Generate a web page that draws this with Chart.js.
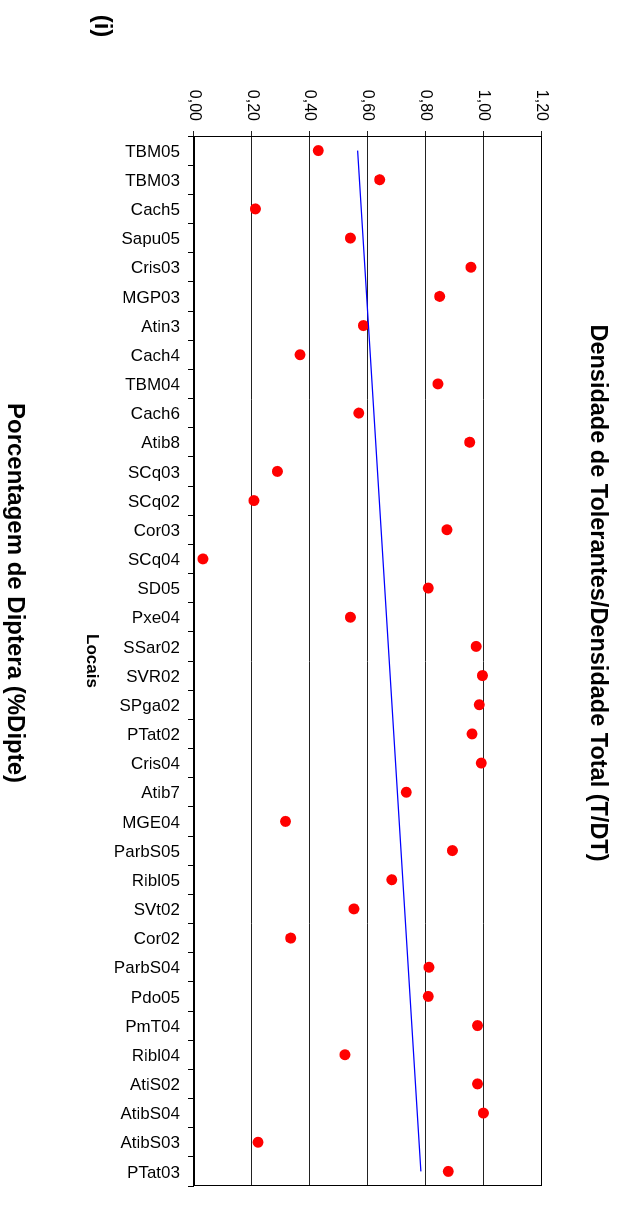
<!DOCTYPE html>
<html>
<head>
<meta charset="utf-8">
<script src="https://cdn.jsdelivr.net/npm/chart.js@4"></script>
<style>
  html, body { margin: 0; padding: 0; background: #ffffff; overflow: hidden; width: 628px; height: 1215px; }
  #wrap { position: absolute; left: 0; top: 0; width: 1215px; height: 628px;
          transform-origin: 0 0; transform: translate(628px, 0) rotate(90deg); background: #ffffff; }
</style>
</head>
<body>
<div id="wrap"><canvas id="c" width="1215" height="628"></canvas></div>
<script>
const categories = ['TBM05','TBM03','Cach5','Sapu05','Cris03','MGP03','Atin3','Cach4','TBM04','Cach6','Atib8',
  'SCq03','SCq02','Cor03','SCq04','SD05','Pxe04','SSar02','SVR02','SPga02','PTat02','Cris04','Atib7','MGE04',
  'ParbS05','Ribl05','SVt02','Cor02','ParbS04','Pdo05','PmT04','Ribl04','AtiS02','AtibS04','AtibS03','PTat03'];
const tdtValues = [0.429,0.641,0.212,0.540,0.956,0.848,0.585,0.366,0.842,0.569,0.952,
  0.288,0.207,0.873,0.031,0.809,0.540,0.974,0.996,0.985,0.960,0.992,0.733,0.316,
  0.892,0.683,0.552,0.334,0.811,0.809,0.979,0.521,0.979,0.999,0.221,0.878];
const trendStart = 0.565;
const trendEnd = 0.783;
const valueTicks = [0, 0.2, 0.4, 0.6, 0.8, 1.0, 1.2];

const trendData = categories.map((c, i) => i === 0 ? trendStart : (i === categories.length - 1 ? trendEnd : null));
const FONT = '"Liberation Sans", Arial, Helvetica, sans-serif';

const framePlugin = {
  id: 'frame',
  beforeDatasetsDraw(chart) {
    const a = chart.chartArea, ctx = chart.ctx;
    ctx.save();
    ctx.strokeStyle = '#000';
    ctx.lineWidth = 1;
    ctx.strokeRect(Math.round(a.left) + 0.5, Math.round(a.top) + 0.5,
                   Math.round(a.right - a.left) - 1, Math.round(a.bottom - a.top) - 1);
    ctx.restore();
  }
};
const panelLabel = {
  id: 'panelLabel',
  afterDraw(chart) {
    const ctx = chart.ctx;
    ctx.save();
    ctx.font = 'bold 24px ' + FONT;
    ctx.fillStyle = '#000';
    ctx.textAlign = 'center';
    ctx.textBaseline = 'middle';
    ctx.fillText('(i)', 26, 526);
    ctx.restore();
  }
};

new Chart(document.getElementById('c'), {
  type: 'line',
  data: {
    labels: categories,
    datasets: [
      { label: 'Tendência', data: trendData, spanGaps: true, borderColor: '#0000ff', borderWidth: 1.3,
        pointRadius: 0, fill: false, tension: 0 },
      { label: 'T/DT', data: tdtValues, showLine: false, pointRadius: 5.5, pointBackgroundColor: '#ff0000',
        pointBorderWidth: 0, pointBorderColor: '#ff0000' }
    ]
  },
  options: {
    responsive: false,
    devicePixelRatio: 1,
    animation: false,
    layout: { padding: { left: 0, right: 29, top: 0, bottom: 0 } },
    plugins: {
      legend: { display: false },
      tooltip: { enabled: false },
      title: { display: true, text: 'Densidade de Tolerantes/Densidade Total (T/DT)', color: '#000',
        font: { size: 23.5, weight: 'bold', family: FONT }, padding: { top: 16, bottom: 42.2 } },
      subtitle: { display: true, position: 'bottom', text: 'Porcentagem de Diptera (%Dipte)', color: '#000',
        font: { size: 24, weight: 'bold', family: FONT }, padding: { top: 52.2, bottom: 0 } }
    },
    scales: {
      x: {
        type: 'category',
        offset: true,
        grid: { offset: true, drawOnChartArea: false, drawTicks: true, tickLength: 6, color: '#000', lineWidth: 1 },
        border: { display: true, color: '#000', width: 1 },
        ticks: { autoSkip: false, minRotation: 90, maxRotation: 90, padding: 8, labelOffset: 1.5, color: '#000',
          font: { size: 17, family: FONT } },
        title: { display: true, text: 'Locais', color: '#000', font: { size: 17, weight: 'bold', family: FONT },
          padding: { top: 0, bottom: 0 } },
        afterFit(s) { s.height = 113; }
      },
      y: {
        min: 0, max: 1.2,
        afterBuildTicks(s) { s.ticks = valueTicks.map(v => ({ value: v })); },
        grid: { drawOnChartArea: true, drawTicks: true, tickLength: 5, color: '#222', lineWidth: 1 },
        border: { display: true, color: '#000', width: 1 },
        ticks: { padding: 10, color: '#000', font: { size: 16, family: FONT },
          callback: v => Number(v).toFixed(2).replace('.', ',') },
        afterFit(s) { s.width = 136; }
      }
    }
  },
  plugins: [framePlugin, panelLabel]
});
</script>
</body>
</html>
